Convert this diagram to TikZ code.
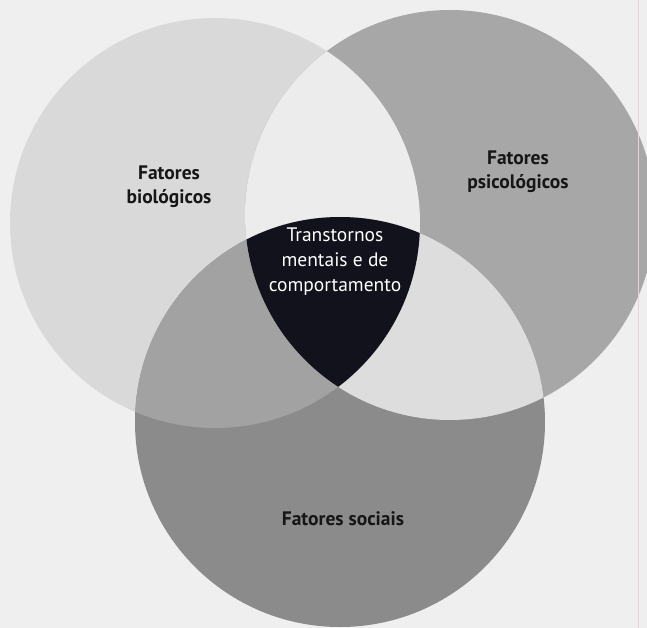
\documentclass[tikz,border=0pt]{standalone}
\usepackage{fontspec}
\setmainfont{PT Sans}
\definecolor{bgc}{HTML}{EFEFEF}
\definecolor{leftc}{HTML}{D9D9D9}
\definecolor{rightc}{HTML}{A7A7A7}
\definecolor{botc}{HTML}{8B8B8B}
\definecolor{lrc}{HTML}{ECECEC}
\definecolor{lbc}{HTML}{A2A2A2}
\definecolor{rbc}{HTML}{DDDDDD}
\definecolor{corec}{HTML}{12121C}
\definecolor{labelc}{HTML}{161616}
\begin{document}
\begin{tikzpicture}[x=1pt,y=-1pt,
  lab/.style={font=\fontsize{19.5}{24}\selectfont\bfseries, text=labelc, align=center, inner sep=0pt},
  corelab/.style={font=\fontsize{19.5}{25}\selectfont, text=white, align=center, inner sep=0pt}]
\useasboundingbox (0,0) rectangle (647,628);
\fill[bgc] (0,0) rectangle (647,628);
\coordinate (cl) at (215,223);
\coordinate (cr) at (450,215);
\coordinate (cb) at (340,422);
\def\rr{205pt}
% single circles
\fill[leftc] (cl) circle[radius=\rr];
\fill[rightc] (cr) circle[radius=\rr];
\fill[botc] (cb) circle[radius=\rr];
% pairwise intersections
\begin{scope}
  \clip (cl) circle[radius=\rr];
  \fill[lrc] (cr) circle[radius=\rr];
  \fill[lbc] (cb) circle[radius=\rr];
\end{scope}
\begin{scope}
  \clip (cr) circle[radius=\rr];
  \fill[rbc] (cb) circle[radius=\rr];
\end{scope}
% triple intersection
\begin{scope}
  \clip (cl) circle[radius=\rr];
  \clip (cr) circle[radius=\rr];
  \fill[corec] (cb) circle[radius=\rr];
\end{scope}
% faint page edge line
\draw[line width=0.8pt, color={rgb,255:red,228;green,214;blue,216}] (638,0) -- (638,628);
% labels
\node[lab] (bio) at (169,187) {Fatores\\biológicos};
\node[lab] (psi) at (518,172) {Fatores\\psicológicos};
\node[lab] (soc) at (343,519) {Fatores sociais};
\node[corelab] (core) at (335,262) {Transtornos\\mentais e de\\comportamento};
\end{tikzpicture}
\end{document}
